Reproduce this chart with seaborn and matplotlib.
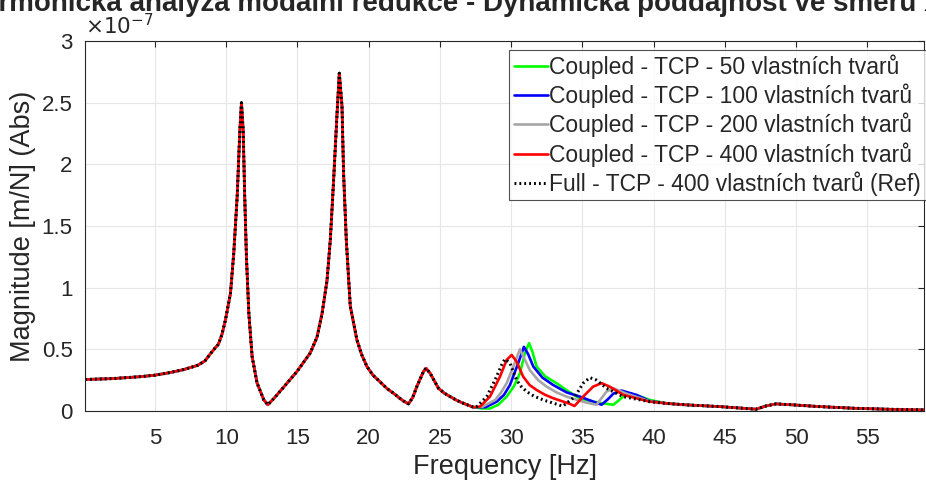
import numpy as np
import pandas as pd
import matplotlib
matplotlib.use("Agg")
import matplotlib.pyplot as plt
import seaborn as sns
from matplotlib.ticker import FuncFormatter, MultipleLocator

# values, magnitude in units of 1e-7 m/N
# common part (all five curves overlap up to ~27 Hz)
freq_common = [0.1, 2, 4, 5, 6, 7, 8, 8.5, 8.9, 9.25, 9.45, 9.7, 9.95, 10.3, 10.53,
               10.77, 10.96, 11.07, 11.19, 11.3, 11.42, 11.59, 11.82, 12.17, 12.64,
               12.92, 13.34, 14.27, 14.97, 15.9, 16.38, 16.73, 17.08, 17.31, 17.54,
               17.78, 17.94, 18.13, 18.24, 18.43, 18.71, 19.18, 19.5, 19.88, 20.3,
               20.81, 21.3, 21.75, 22.1, 22.45, 22.8, 23.1, 23.38, 23.85, 24.03, 24.32,
               24.9, 25.3, 25.72, 26.2, 26.65, 27.35]
mag_common = [0.255, 0.262, 0.278, 0.29, 0.31, 0.335, 0.37, 0.405, 0.465, 0.515, 0.54,
              0.62, 0.74, 0.955, 1.28, 1.74, 2.28, 2.5, 2.28, 1.74, 1.25, 0.79, 0.44,
              0.225, 0.09, 0.05, 0.10, 0.225, 0.32, 0.47, 0.60, 0.79, 1.06, 1.39, 1.87,
              2.41, 2.74, 2.47, 1.93, 1.39, 0.85, 0.575, 0.46, 0.36, 0.29, 0.235, 0.18,
              0.143, 0.11, 0.08, 0.057, 0.11, 0.197, 0.32, 0.346, 0.305, 0.184, 0.145,
              0.116, 0.085, 0.062, 0.03]

# second part, where the reductions differ (27 - 40 Hz)
freq_50 = [28.0, 28.52, 29.1, 29.69, 30.2, 30.62, 30.97, 31.26, 31.5, 31.79, 32.4,
           33.19, 34.0, 34.83, 36.2, 37.18, 37.5, 37.87, 38.45, 39.0, 39.73]
mag_50 = [0.02, 0.02, 0.05, 0.116, 0.2, 0.305, 0.468, 0.55, 0.48, 0.36, 0.28, 0.225,
          0.16, 0.10, 0.065, 0.05, 0.08, 0.116, 0.138, 0.12, 0.089]
freq_100 = [28.2, 28.99, 29.5, 29.92, 30.5, 30.9, 31.2, 31.56, 32.2, 32.96, 33.9,
            34.83, 36.35, 36.8, 37.18, 37.75, 38.8, 39.73]
mag_100 = [0.03, 0.075, 0.13, 0.21, 0.387, 0.52, 0.46, 0.36, 0.27, 0.21, 0.15, 0.116,
           0.05, 0.095, 0.14, 0.165, 0.13, 0.08]
freq_200 = [28.0, 28.9, 29.3, 29.69, 30.16, 30.62, 30.95, 31.32, 31.9, 32.49, 33.2,
            33.89, 35.2, 36.0, 36.7, 37.18, 38.1, 39.73]
mag_200 = [0.035, 0.09, 0.15, 0.225, 0.36, 0.50, 0.42, 0.33, 0.25, 0.197, 0.15, 0.116,
           0.07, 0.05, 0.157, 0.184, 0.14, 0.078]
freq_400 = [27.82, 28.52, 29.22, 29.69, 30.04, 30.39, 30.85, 31.3, 31.79, 32.4, 32.96,
            34.13, 34.45, 35.06, 35.76, 36.35, 36.93, 37.87, 39.73]
mag_400 = [0.035, 0.116, 0.278, 0.414, 0.454, 0.40, 0.278, 0.21, 0.17, 0.13, 0.103,
           0.057, 0.04, 0.116, 0.197, 0.225, 0.197, 0.13, 0.075]
freq_ref = [27.59, 28.29, 28.87, 29.34, 29.57, 29.92, 30.39, 30.7, 31.09, 31.6, 32.26,
            33.45, 33.65, 34.48, 35.06, 35.53, 36.0, 36.7, 37.87, 39.73]
mag_ref = [0.035, 0.116, 0.25, 0.373, 0.42, 0.387, 0.25, 0.2, 0.157, 0.12, 0.089,
           0.045, 0.04, 0.116, 0.225, 0.27, 0.25, 0.184, 0.116, 0.075]

# tail (all curves overlap again)
freq_tail = [41.0, 42.3, 44.64, 47.2, 47.9, 48.6, 49.8, 51.65, 53.98, 56.3, 59.0]
mag_tail = [0.06, 0.049, 0.035, 0.014, 0.04, 0.057, 0.049, 0.035, 0.022, 0.014, 0.008]

series = ["Coupled - TCP - 50 vlastních tvarů",
          "Coupled - TCP - 100 vlastních tvarů",
          "Coupled - TCP - 200 vlastních tvarů",
          "Coupled - TCP - 400 vlastních tvarů",
          "Full - TCP - 400 vlastních tvarů (Ref)"]
colors = ["#00ff00", "#0000ff", "#a6a6a6", "#ff0000", "black"]
parts = [(freq_50, mag_50), (freq_100, mag_100), (freq_200, mag_200),
         (freq_400, mag_400), (freq_ref, mag_ref)]

frames = []
for name, (f, m) in zip(series, parts):
    frames.append(pd.DataFrame({
        "freq": freq_common + f + freq_tail,
        "mag": mag_common + m + mag_tail,
        "series": name,
    }))
df = pd.concat(frames, ignore_index=True)

sns.set_style("white")
plt.rcParams["font.family"] = ["Liberation Sans", "DejaVu Sans"]

fig = plt.figure(figsize=(9.26, 4.84), dpi=100)
ax = fig.add_axes([0.092, 0.151, 0.906, 0.764])

for name, col in zip(series, colors):
    sub = df[df["series"] == name]
    if name.startswith("Full"):
        sns.lineplot(data=sub, x="freq", y="mag", ax=ax, color=col, lw=2.2,
                     linestyle=(0, (0.6, 1.0)), label=name, estimator=None, sort=False)
    else:
        sns.lineplot(data=sub, x="freq", y="mag", ax=ax, color=col, lw=1.9,
                     label=name, estimator=None, sort=False)

ax.set_xlim(0.1, 59)
ax.set_ylim(0, 3)
ax.set_xticks(np.arange(5, 59, 5))
ax.yaxis.set_major_locator(MultipleLocator(0.5))
ax.yaxis.set_major_formatter(FuncFormatter(lambda v, p: f"{v:g}"))
ax.grid(True, color="#e6e6e6", lw=0.8)
ax.tick_params(direction="in", length=4, labelsize=16, colors="#262626",
               top=True, right=True, pad=9)
ax.tick_params(axis="x", pad=12)
for s in ax.spines.values():
    s.set_color("#262626")
    s.set_linewidth(0.8)

ax.set_xlabel("Frequency [Hz]", fontsize=19.5, color="#262626", labelpad=4)
ax.set_ylabel("Magnitude [m/N] (Abs)", fontsize=19.5, color="#262626", labelpad=4)
ax.text(0.0, 1.005, r"$\times10^{-7}$", transform=ax.transAxes, fontsize=15.5,
        color="#262626", ha="left", va="bottom")

leg = ax.legend(loc="upper right", bbox_to_anchor=(1.002, 0.976), fontsize=16.5,
                frameon=True, fancybox=False, handlelength=1.5, handletextpad=0.05,
                borderpad=0.2, labelspacing=0.2, borderaxespad=0.0)
leg.get_frame().set_edgecolor("#262626")
leg.get_frame().set_linewidth(0.8)

fig.text(-0.04, 0.978, "Harmonická analýza modální redukce - Dynamická poddajnost ve směru X",
         ha="left", va="baseline", fontsize=20, fontweight="bold")

fig.savefig("out.png", dpi=100)
